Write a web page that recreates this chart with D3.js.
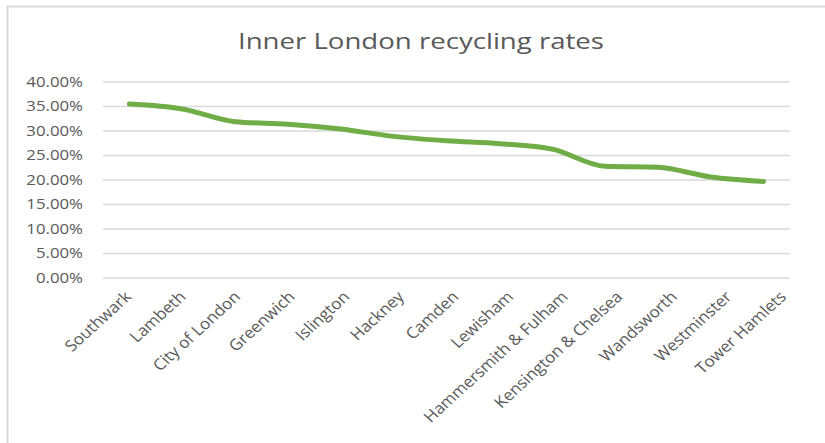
<!DOCTYPE html>
<html>
<head>
<meta charset="utf-8">
<script src="https://cdn.jsdelivr.net/npm/d3@7"></script>
<style>
  body { margin: 0; background: #fff; }
  svg { display: block; }
  svg text { font-family: "Open Sans", sans-serif; }
</style>
</head>
<body>
<svg id="chart" width="825" height="443"></svg>
<script>
// chart data
const boroughs = ["Southwark", "Lambeth", "City of London", "Greenwich", "Islington", "Hackney",
    "Camden", "Lewisham", "Hammersmith & Fulham", "Kensington & Chelsea", "Wandsworth",
    "Westminster", "Tower Hamlets"];
const rates = [0.355, 0.345, 0.319, 0.314, 0.304, 0.289, 0.280, 0.274, 0.263, 0.228, 0.226, 0.206, 0.197];
const yTicks = [0, 0.05, 0.10, 0.15, 0.20, 0.25, 0.30, 0.35, 0.40];

const svg = d3.select("#chart");
const plotLeft = 103, plotRight = 790, plotTop = 82, plotBottom = 278;

// chart border
svg.append("rect")
    .attr("x", 7.5).attr("y", 6.5)
    .attr("width", 900).attr("height", 500)
    .attr("fill", "none")
    .attr("stroke", "#d9d9d9")
    .attr("stroke-width", 2);

svg.append("text")
    .attr("x", 421)
    .attr("y", 49)
    .attr("text-anchor", "middle")
    .attr("textLength", 366)
    .attr("lengthAdjust", "spacingAndGlyphs")
    .style("font-size", "21px")
    .style("fill", "#595959")
    .text("Inner London recycling rates");

const x = d3.scaleBand().domain(boroughs).range([plotLeft, plotRight]);
const y = d3.scaleLinear().domain([0, 0.4]).range([plotBottom, plotTop]);
// category labels sit on a slightly wider spread than the points
const xLabel = d3.scalePoint().domain(boroughs).range([128, 783]);

// gridlines
svg.append("g")
    .selectAll("line")
    .data(yTicks)
    .join("line")
    .attr("x1", plotLeft).attr("x2", plotRight)
    .attr("y1", d => y(d)).attr("y2", d => y(d))
    .attr("stroke", "#d9d9d9")
    .attr("stroke-width", 1.5);

// y axis labels
const yAxis = svg.append("g")
    .attr("transform", `translate(${plotLeft},0)`)
    .call(d3.axisLeft(y).tickValues(yTicks).tickFormat(d3.format(".2%")).tickSize(0));
yAxis.select(".domain").remove();
yAxis.selectAll("text")
    .style("font-family", "'Open Sans', sans-serif")
    .style("font-size", "14px")
    .style("fill", "#595959")
    .attr("transform", "scale(1.2,1)")
    .attr("x", -20 / 1.2);

// x axis labels (slightly stretched like the source)
svg.append("g")
    .selectAll("text")
    .data(boroughs)
    .join("text")
    .attr("transform", d => `translate(${xLabel(d)},${plotBottom + 16}) scale(1.1,1) rotate(-45)`)
    .attr("text-anchor", "end")
    .attr("dy", "0.35em")
    .style("font-size", "15.5px")
    .style("fill", "#595959")
    .text(d => d);

// line
const line = d3.line()
    .x(d => x(d.name) + x.bandwidth() / 2)
    .y(d => y(d.value))
    .curve(d3.curveMonotoneX);

svg.append("path")
    .datum(boroughs.map((b, i) => ({ name: b, value: rates[i] })))
    .attr("fill", "none")
    .attr("stroke", "#70ad47")
    .attr("stroke-width", 5)
    .attr("stroke-linecap", "round")
    .attr("d", line);
</script>
</body>
</html>
